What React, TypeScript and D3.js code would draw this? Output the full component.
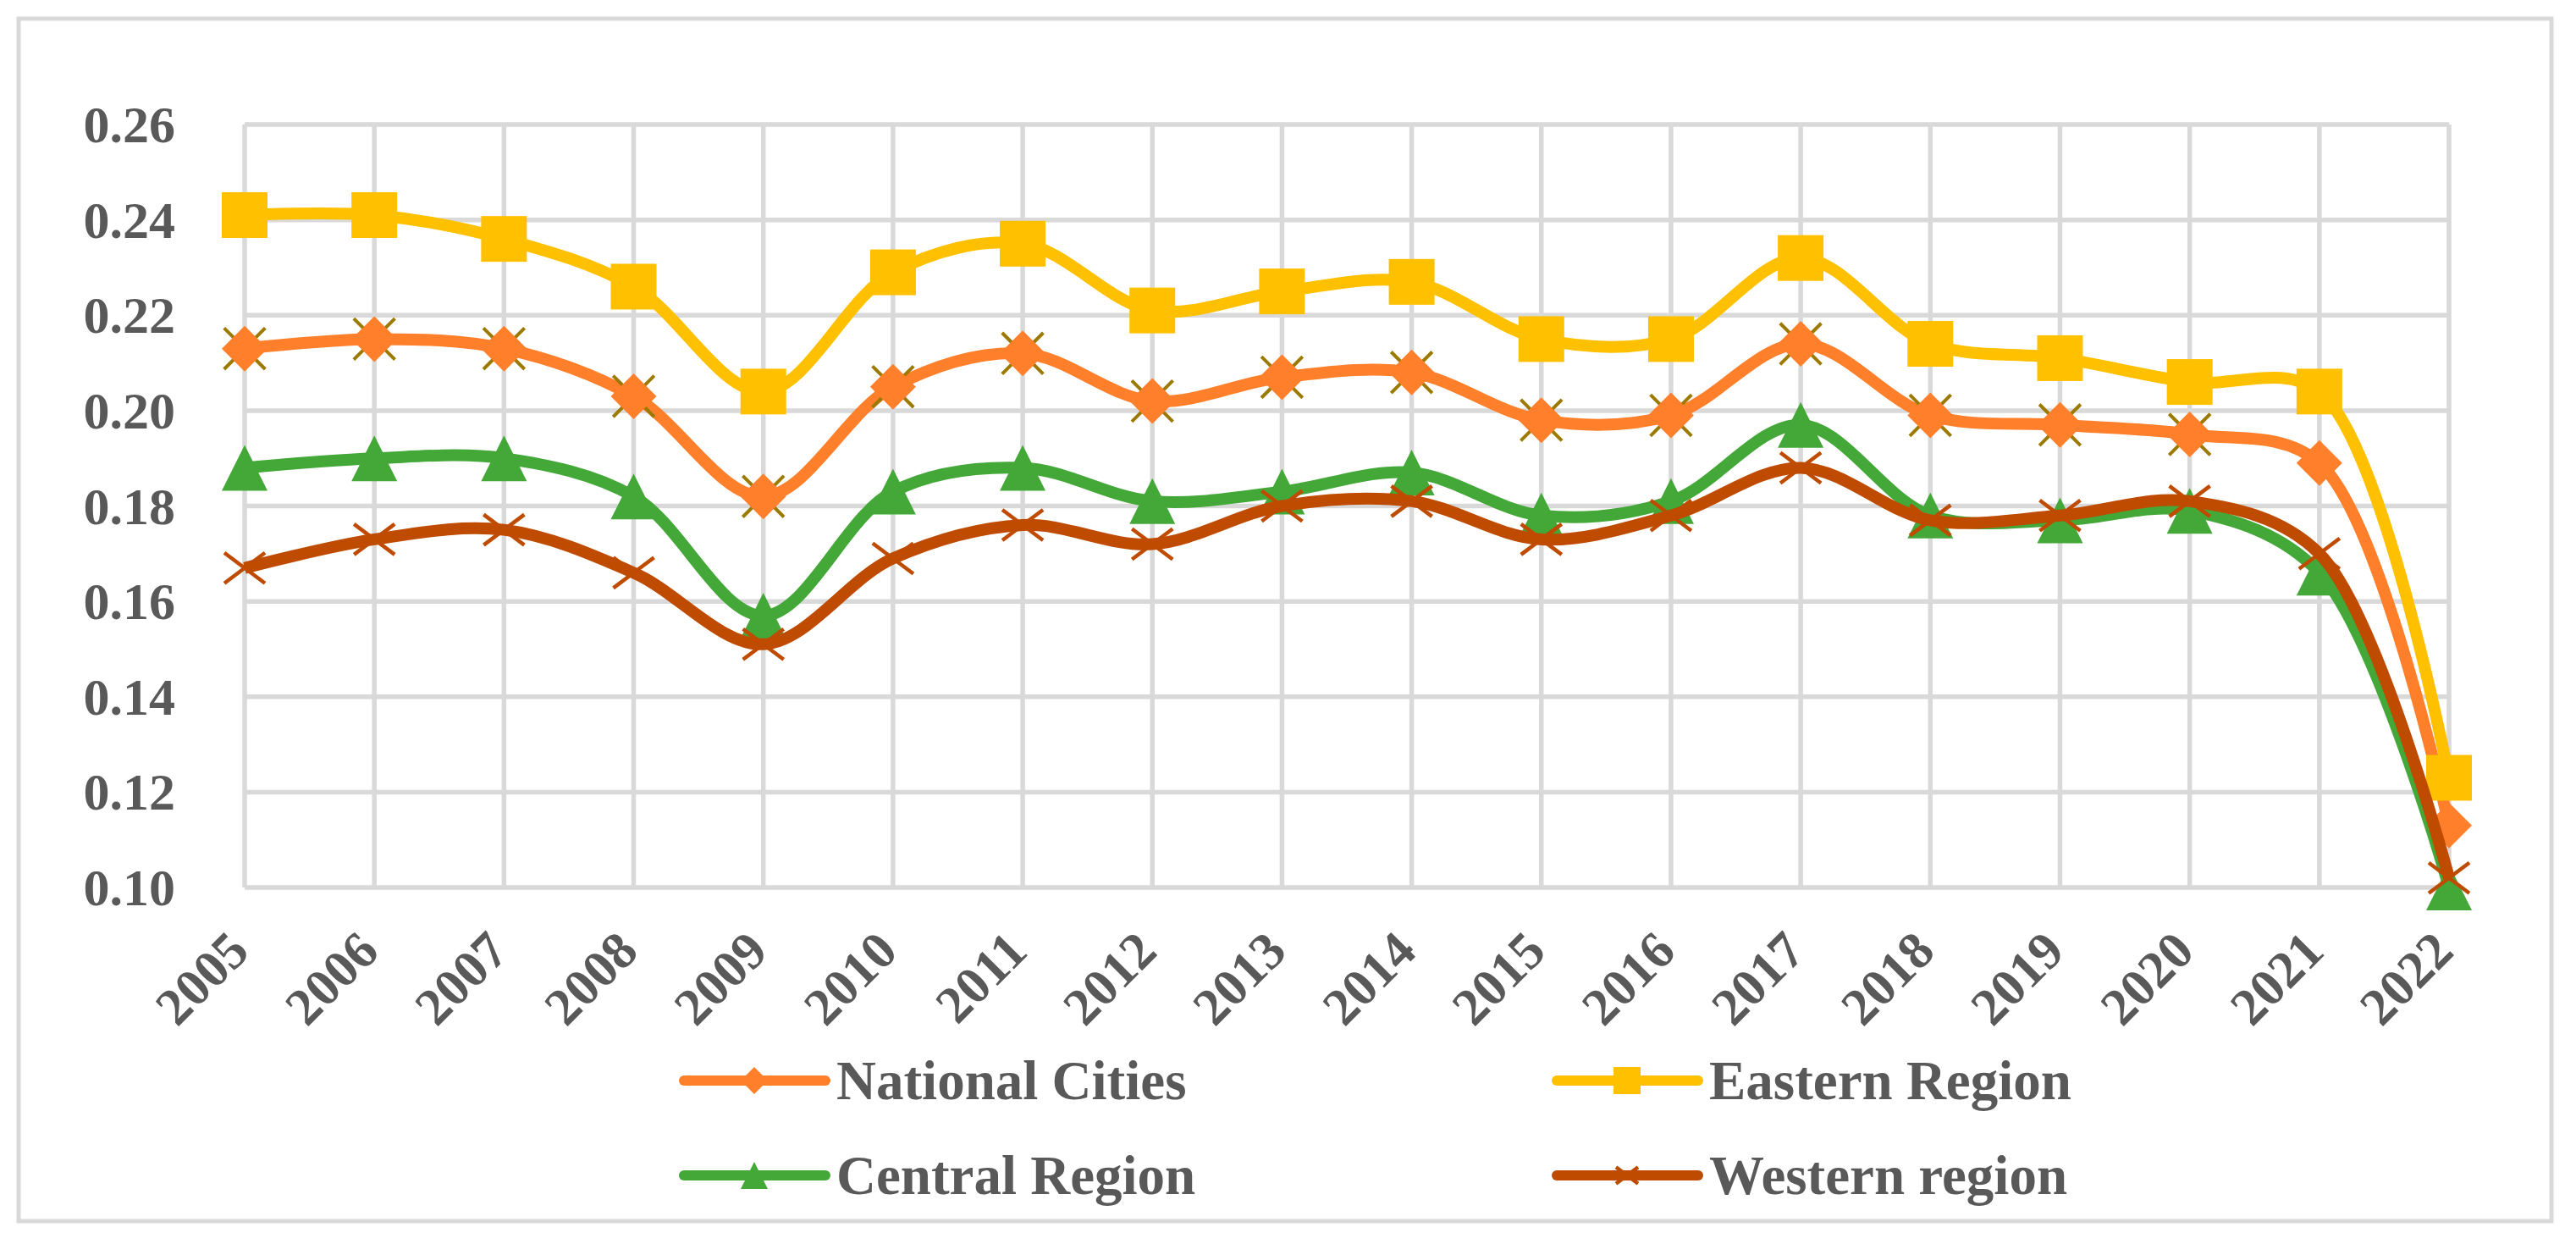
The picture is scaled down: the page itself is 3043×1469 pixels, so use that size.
import React from "react";
import * as d3 from "d3";

const years = [
  "2005", "2006", "2007", "2008", "2009", "2010", "2011", "2012", "2013",
  "2014", "2015", "2016", "2017", "2018", "2019", "2020", "2021", "2022",
];

const nationalCities = [
  0.213, 0.215, 0.213, 0.203, 0.182, 0.205, 0.212, 0.202, 0.207,
  0.208, 0.198, 0.199, 0.214, 0.199, 0.197, 0.195, 0.189, 0.113,
];
const easternRegion = [
  0.241, 0.241, 0.236, 0.226, 0.204, 0.229, 0.235, 0.221, 0.225,
  0.227, 0.215, 0.215, 0.232, 0.214, 0.211, 0.206, 0.204, 0.123,
];
const centralRegion = [
  0.188, 0.190, 0.190, 0.182, 0.157, 0.183, 0.188, 0.181, 0.183,
  0.187, 0.178, 0.181, 0.197, 0.178, 0.177, 0.179, 0.166, 0.100,
];
const westernRegion = [
  0.167, 0.173, 0.175, 0.166, 0.151, 0.169, 0.176, 0.172, 0.180,
  0.181, 0.173, 0.178, 0.188, 0.177, 0.178, 0.181, 0.170, 0.102,
];

const yTicks = [0.10, 0.12, 0.14, 0.16, 0.18, 0.20, 0.22, 0.24, 0.26];

type MarkerKind = "diamond" | "square" | "triangle" | "cross";

const series: { name: string; values: number[]; color: string; marker: MarkerKind }[] = [
  { name: "National Cities", values: nationalCities, color: "#FF7F2A", marker: "diamond" },
  { name: "Eastern Region", values: easternRegion, color: "#FFC000", marker: "square" },
  { name: "Central Region", values: centralRegion, color: "#43A838", marker: "triangle" },
  { name: "Western region", values: westernRegion, color: "#BF4B00", marker: "cross" },
];

const W = 3043;
const H = 1469;
const FONT = "'Liberation Serif', 'DejaVu Serif', serif";
const TEXT = "#595959";
const GRID = "#D9D9D9";

const x = d3.scalePoint<string>().domain(years).range([289, 2893]);
const y = d3.scaleLinear().domain([0.1, 0.26]).range([1048, 147]);

function Marker({ kind, cx, cy, s, color, olive }: {
  kind: MarkerKind; cx: number; cy: number; s: number; color: string; olive?: boolean;
}) {
  const h = s / 2;
  if (kind === "square") {
    return <rect x={cx - h} y={cy - h} width={s} height={s} fill={color} />;
  }
  if (kind === "diamond") {
    const c = h * 0.9;
    return (
      <g>
        {olive && (
          <path
            d={`M${cx - c},${cy - c}L${cx + c},${cy + c}M${cx + c},${cy - c}L${cx - c},${cy + c}`}
            stroke="#9C7A00" strokeWidth={4}
          />
        )}
        <path d={`M${cx},${cy - h}L${cx + h},${cy}L${cx},${cy + h}L${cx - h},${cy}Z`} fill={color} />
      </g>
    );
  }
  if (kind === "triangle") {
    return <path d={`M${cx},${cy - h}L${cx + h},${cy + h}L${cx - h},${cy + h}Z`} fill={color} />;
  }
  return (
    <path
      d={`M${cx - h},${cy - h * 0.75}L${cx + h},${cy + h * 0.75}M${cx + h},${cy - h * 0.75}L${cx - h},${cy + h * 0.75}`}
      stroke={color} strokeWidth={4.5}
    />
  );
}

export default function App() {
  const line = d3
    .line<number>()
    .x((_, i) => x(years[i]) as number)
    .y((d) => y(d))
    .curve(d3.curveCatmullRom.alpha(0.5));

  const legendCols = [808, 1839];
  const legendRows = [1276, 1388];

  return (
    <svg
      width={W}
      height={H}
      viewBox={`0 0 ${W} ${H}`}
      style={{ position: "absolute", left: 0, top: 0, background: "#fff" }}
    >
      <rect x={0} y={0} width={W} height={H} fill="#fff" />
      <rect x={22} y={22} width={2992} height={1420} fill="none" stroke={GRID} strokeWidth={5} />

      {/* grid */}
      {yTicks.map((t) => (
        <line key={t} x1={x.range()[0]} x2={x.range()[1]} y1={y(t)} y2={y(t)} stroke={GRID} strokeWidth={5.5} />
      ))}
      {years.map((yr) => (
        <line key={yr} x1={x(yr)} x2={x(yr)} y1={y(0.26)} y2={y(0.1)} stroke={GRID} strokeWidth={5.5} />
      ))}

      {/* y labels */}
      {yTicks.map((t) => (
        <text
          key={t}
          x={207}
          y={y(t)}
          dy="0.34em"
          textAnchor="end"
          fontFamily={FONT}
          fontWeight="bold"
          fontSize={62}
          fill={TEXT}
        >
          {d3.format(".2f")(t)}
        </text>
      ))}

      {/* x labels */}
      {years.map((yr) => (
        <text
          key={yr}
          transform={`translate(${(x(yr) as number) + 8},${1126}) rotate(-45)`}
          textAnchor="end"
          fontFamily={FONT}
          fontWeight="bold"
          fontSize={62}
          fill={TEXT}
        >
          {yr}
        </text>
      ))}

      {/* series */}
      {series.map((s) => (
        <g key={s.name}>
          <path d={line(s.values) || ""} fill="none" stroke={s.color} strokeWidth={14} strokeLinejoin="round" />
          {s.values.map((v, i) => (
            <Marker
              key={i}
              kind={s.marker}
              cx={x(years[i]) as number}
              cy={y(v)}
              s={s.marker === "cross" ? 48 : 54}
              color={s.color}
              olive={s.marker === "diamond" && i < years.length - 2}
            />
          ))}
        </g>
      ))}

      {/* legend */}
      {series.map((s, i) => {
        const lx = legendCols[i % 2];
        const ly = legendRows[Math.floor(i / 2)];
        return (
          <g key={s.name}>
            <line x1={lx} x2={lx + 167} y1={ly} y2={ly} stroke={s.color} strokeWidth={12} strokeLinecap="round" />
            <Marker kind={s.marker} cx={lx + 83} cy={ly} s={s.marker === "cross" ? 26 : 32} color={s.color} />
            <text
              x={lx + 180}
              y={ly}
              dy="0.34em"
              fontFamily={FONT}
              fontWeight="bold"
              fontSize={65}
              fill={TEXT}
            >
              {s.name}
            </text>
          </g>
        );
      })}
    </svg>
  );
}
